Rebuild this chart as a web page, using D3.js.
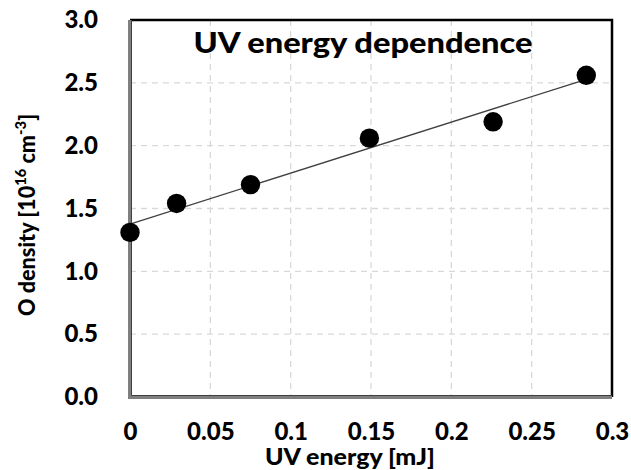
<!DOCTYPE html>
<html>
<head>
<meta charset="utf-8">
<script src="https://cdn.jsdelivr.net/npm/d3@7"></script>
<style>
  body { margin: 0; background: #fff; }
  text { font-family: Lato, "Open Sans", sans-serif; font-weight: 900; fill: #000; }
</style>
</head>
<body>
<div id="chart"></div>
<script>
var svgWidth = 631;
var svgHeight = 470;

var margin = { top: 20, right: 19, bottom: 73, left: 130 };

var width = svgWidth - margin.left - margin.right;
var height = svgHeight - margin.top - margin.bottom;

// data
var uvEnergy = [0, 0.029, 0.075, 0.149, 0.226, 0.284];
var oDensity = [1.31, 1.54, 1.69, 2.06, 2.19, 2.56];
var xTicks = [0, 0.05, 0.1, 0.15, 0.2, 0.25, 0.3];
var yTicks = [0, 0.5, 1.0, 1.5, 2.0, 2.5, 3.0];
var chartTitle = "UV energy dependence";

var points = uvEnergy.map((e, i) => ({ x: e, y: oDensity[i] }));

var svg = d3.select("#chart")
  .append("svg")
  .attr("width", svgWidth)
  .attr("height", svgHeight);

var chartGroup = svg.append("g")
  .attr("transform", `translate(${margin.left}, ${margin.top})`);

var xScale = d3.scaleLinear().domain([0, 0.3]).range([0, width]);
var yScale = d3.scaleLinear().domain([0, 3]).range([height, 0]);

// gridlines
chartGroup.append("g")
  .selectAll("line")
  .data(xTicks.slice(1, -1))
  .enter()
  .append("line")
  .attr("x1", d => xScale(d)).attr("x2", d => xScale(d))
  .attr("y1", 0).attr("y2", height)
  .attr("stroke", "#d9d9d9").attr("stroke-width", 1.3)
  .attr("stroke-dasharray", "6,5");

chartGroup.append("g")
  .selectAll("line")
  .data(yTicks.slice(1, -1))
  .enter()
  .append("line")
  .attr("x1", 0).attr("x2", width)
  .attr("y1", d => yScale(d)).attr("y2", d => yScale(d))
  .attr("stroke", "#d9d9d9").attr("stroke-width", 1.3)
  .attr("stroke-dasharray", "6,5");

// top and right border
chartGroup.append("path")
  .attr("d", `M0,0H${width}V${height}`)
  .attr("fill", "none")
  .attr("stroke", "#000")
  .attr("stroke-width", 2.5);

// axes (no tick marks, Excel-like)
var bottomAxis = d3.axisBottom(xScale).tickValues(xTicks).tickSize(0).tickPadding(26)
  .tickFormat(d => d === 0 ? "0" : d3.format("")(+d.toFixed(2)));
var leftAxis = d3.axisLeft(yScale).tickValues(yTicks).tickSize(0).tickPadding(32)
  .tickFormat(d3.format(".1f"));

var xAxisG = chartGroup.append("g")
  .attr("transform", `translate(0, ${height})`)
  .call(bottomAxis);
var yAxisG = chartGroup.append("g").call(leftAxis);

[xAxisG, yAxisG].forEach(g => {
  g.select(".domain").remove();
  g.selectAll("text")
    .style("font-family", 'Lato, "Open Sans", sans-serif')
    .style("font-weight", "900")
    .style("font-size", "24px")
    .attr("fill", "#000");
});

// axis lines, gray double look
chartGroup.append("path")
  .attr("d", `M0,0V${height}H${width}`)
  .attr("fill", "none")
  .attr("stroke", "#7f7f7f")
  .attr("stroke-width", 4);
chartGroup.append("path")
  .attr("d", `M1.5,0V${height - 1.5}H${width}`)
  .attr("fill", "none")
  .attr("stroke", "#404040")
  .attr("stroke-width", 1);

// linear fit line over data range
var mx = d3.mean(uvEnergy), my = d3.mean(oDensity);
var sxy = d3.sum(points, d => (d.x - mx) * (d.y - my));
var sxx = d3.sum(points, d => (d.x - mx) * (d.x - mx));
var slope = sxy / sxx;
var intercept = my - slope * mx;
var fitEnds = d3.extent(uvEnergy);

chartGroup.append("line")
  .attr("x1", xScale(fitEnds[0]))
  .attr("y1", yScale(intercept + slope * fitEnds[0]))
  .attr("x2", xScale(fitEnds[1]))
  .attr("y2", yScale(intercept + slope * fitEnds[1]))
  .attr("stroke", "#404040")
  .attr("stroke-width", 1.3);

// points
chartGroup.selectAll("circle")
  .data(points)
  .enter()
  .append("circle")
  .attr("cx", d => xScale(d.x))
  .attr("cy", d => yScale(d.y))
  .attr("r", 9.7)
  .attr("fill", "#000");

// title inside plot
chartGroup.append("text")
  .attr("x", 363 - margin.left)
  .attr("y", 53 - margin.top)
  .attr("text-anchor", "middle")
  .attr("textLength", 339)
  .attr("lengthAdjust", "spacingAndGlyphs")
  .style("font-size", "28px")
  .text(chartTitle);

// axis labels
svg.append("text")
  .attr("x", 350)
  .attr("y", 465)
  .attr("text-anchor", "middle")
  .attr("textLength", 170)
  .attr("lengthAdjust", "spacingAndGlyphs")
  .style("font-size", "22px")
  .text("UV energy [mJ]");

var yLabel = svg.append("text")
  .attr("transform", "translate(35, 215) rotate(-90)")
  .attr("text-anchor", "middle")
  .attr("textLength", 202)
  .attr("lengthAdjust", "spacingAndGlyphs")
  .style("font-size", "22px");
yLabel.append("tspan").text("O density [10");
yLabel.append("tspan").attr("dy", -9).style("font-size", "15px").text("16");
yLabel.append("tspan").attr("dy", 9).text(" cm");
yLabel.append("tspan").attr("dy", -9).style("font-size", "15px").text("-3");
yLabel.append("tspan").attr("dy", 9).text("]");
</script>
</body>
</html>
